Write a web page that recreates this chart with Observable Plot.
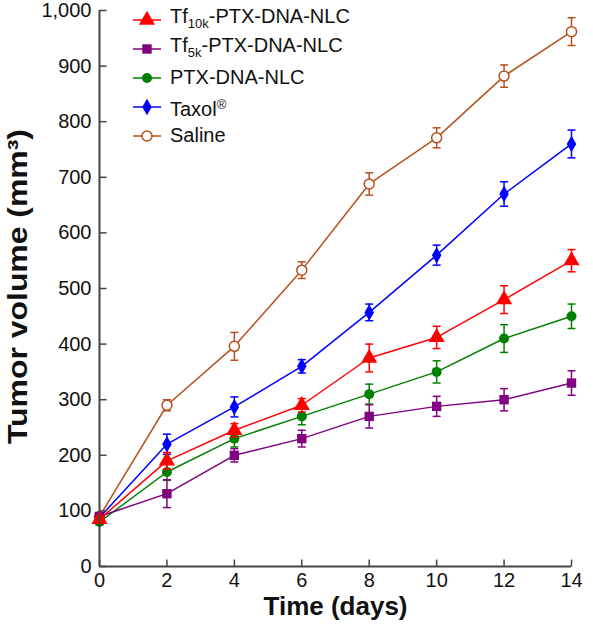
<!DOCTYPE html>
<html><head><meta charset="utf-8">
<script src="https://cdn.jsdelivr.net/npm/d3@7"></script>
<script src="https://cdn.jsdelivr.net/npm/@observablehq/plot@0.6"></script>
<style>
body{margin:0;background:#fff;font-family:"Liberation Sans",Arial,sans-serif;}
#wrap{position:relative;width:593px;height:628px;}
#legend{position:absolute;left:132px;top:5px;font-size:20px;color:#111;line-height:29px;}
#legend .row{display:flex;align-items:center;height:29px;}
#legend svg{margin-right:8px;}
#legend sub{font-size:13px;vertical-align:-5px;}
#legend sup{font-size:13px;vertical-align:7px;}
</style></head>
<body><div id="wrap"><div id="legend"></div></div>
<script>
const days = [0, 2, 4, 6, 8, 10, 12, 14];
const tf10k = [85, 190, 245, 290, 375, 412, 480, 550];
const tf10kErr = [5, 15, 12, 12, 25, 20, 25, 20];
const tf5k = [90, 131, 200, 230, 270, 288, 300, 330];
const tf5kErr = [5, 25, 12, 15, 21, 18, 20, 22];
const ptx = [80, 170, 230, 270, 310, 350, 410, 450];
const ptxErr = [5, 15, 15, 15, 18, 20, 25, 22];
const taxol = [88, 220, 287, 360, 457, 560, 670, 760];
const taxolErr = [5, 18, 18, 12, 15, 18, 22, 25];
const saline = [90, 290, 396, 533, 688, 771, 882, 962];
const salineErr = [5, 10, 25, 15, 20, 18, 20, 25];
const yTicks = [0, 100, 200, 300, 400, 500, 600, 700, 800, 900, 1000];
const xTicks = [0, 2, 4, 6, 8, 10, 12, 14];

const seriesDefs = [
  {key: "saline", label: "Saline", v: saline, e: salineErr, color: "#b5511f", symbol: "circle", r: 5, fill: "white"},
  {key: "taxol", label: "Taxol<sup>®</sup>", v: taxol, e: taxolErr, color: "#0000ff", symbol: "diamond", r: 5, fill: null},
  {key: "ptx", label: "PTX-DNA-NLC", v: ptx, e: ptxErr, color: "#008000", symbol: "circle", r: 5, fill: null},
  {key: "tf5k", label: "Tf<sub>5k</sub>-PTX-DNA-NLC", v: tf5k, e: tf5kErr, color: "#800080", symbol: "square", r: 5.3, fill: null},
  {key: "tf10k", label: "Tf<sub>10k</sub>-PTX-DNA-NLC", v: tf10k, e: tf10kErr, color: "#ff0000", symbol: "triangle", r: 6, fill: null}
];

const cap = {draw(ctx, size) { const r = Math.sqrt(size / Math.PI); ctx.moveTo(-r, 0); ctx.lineTo(r, 0); }};
const tickUp = {draw(ctx) { ctx.moveTo(0, 0); ctx.lineTo(0, -7); }};
const tickRight = {draw(ctx) { ctx.moveTo(0, 0); ctx.lineTo(7, 0); }};

const marks = [];
for (const s of seriesDefs) {
  const rows = days.map((d, i) => ({x: d, y: s.v[i], lo: s.v[i] - s.e[i], hi: s.v[i] + s.e[i]}));
  marks.push(Plot.line(rows, {x: "x", y: "y", stroke: s.color, strokeWidth: 1.5}));
  marks.push(Plot.ruleX(rows, {x: "x", y1: "lo", y2: "hi", stroke: s.color, strokeWidth: 1.5}));
  marks.push(Plot.dot(rows, {x: "x", y: "lo", symbol: cap, r: 4, stroke: s.color, strokeWidth: 1.5, fill: "none"}));
  marks.push(Plot.dot(rows, {x: "x", y: "hi", symbol: cap, r: 4, stroke: s.color, strokeWidth: 1.5, fill: "none"}));
  marks.push(Plot.dot(rows, {x: "x", y: "y", symbol: s.symbol, r: s.r,
    fill: s.fill || s.color, stroke: s.color, strokeWidth: s.fill ? 1.5 : 0}));
}

const yTitle = "Tumor volume (mm³)";
const chart = Plot.plot({
  width: 593, height: 628,
  marginLeft: 99, marginRight: 22, marginTop: 10, marginBottom: 62,
  style: {fontFamily: "Liberation Sans, Arial, sans-serif", fontSize: "20px", color: "#111", background: "white"},
  x: {domain: [0, 14]},
  y: {domain: [0, 1000]},
  marks: [
    ...marks,
    Plot.axisX(xTicks, {tickSize: 0, tickPadding: 6, fontSize: 20, label: null}),
    Plot.axisY(yTicks, {tickSize: 0, tickPadding: 8, fontSize: 20, tickFormat: d3.format(","), label: null}),
    Plot.dot(xTicks, {x: d => d, y: () => 0, symbol: tickUp, r: 3, stroke: "#444", strokeWidth: 1.5, fill: "none"}),
    Plot.dot(yTicks, {x: () => 0, y: d => d, symbol: tickRight, r: 3, stroke: "#444", strokeWidth: 1.5, fill: "none"}),
    Plot.ruleX([0], {stroke: "#444", strokeWidth: 2}),
    Plot.ruleY([0], {stroke: "#444", strokeWidth: 2}),
    Plot.text(["Time (days)"], {frameAnchor: "bottom", dy: 48, fontSize: 26, fontWeight: "bold", fill: "#111"}),
    Plot.text([yTitle], {frameAnchor: "left", textAnchor: "middle", dx: -81, dy: -2, rotate: -90, fontSize: 27, fontWeight: "bold", fill: "#111"})
  ]
});
for (const t of chart.querySelectorAll("text")) {
  if (t.textContent === yTitle) { t.setAttribute("textLength", 315); t.setAttribute("lengthAdjust", "spacingAndGlyphs"); }
}
document.getElementById("wrap").prepend(chart);

const leg = document.getElementById("legend");
for (const s of [seriesDefs[4], seriesDefs[3], seriesDefs[2], seriesDefs[1], seriesDefs[0]]) {
  const row = document.createElement("div");
  row.className = "row";
  const sym = d3.symbol().type({circle: d3.symbolCircle, diamond: d3.symbolDiamond, square: d3.symbolSquare, triangle: d3.symbolTriangle}[s.symbol]).size(Math.PI * s.r * s.r)();
  row.innerHTML = `<svg width="30" height="20"><line x1="1" x2="29" y1="10" y2="10" stroke="${s.color}" stroke-width="1.5"/><path d="${sym}" transform="translate(15,10)" fill="${s.fill || s.color}" stroke="${s.color}" stroke-width="${s.fill ? 1.5 : 0}"/></svg><span>${s.label}</span>`;
  leg.appendChild(row);
}
</script></body></html>
